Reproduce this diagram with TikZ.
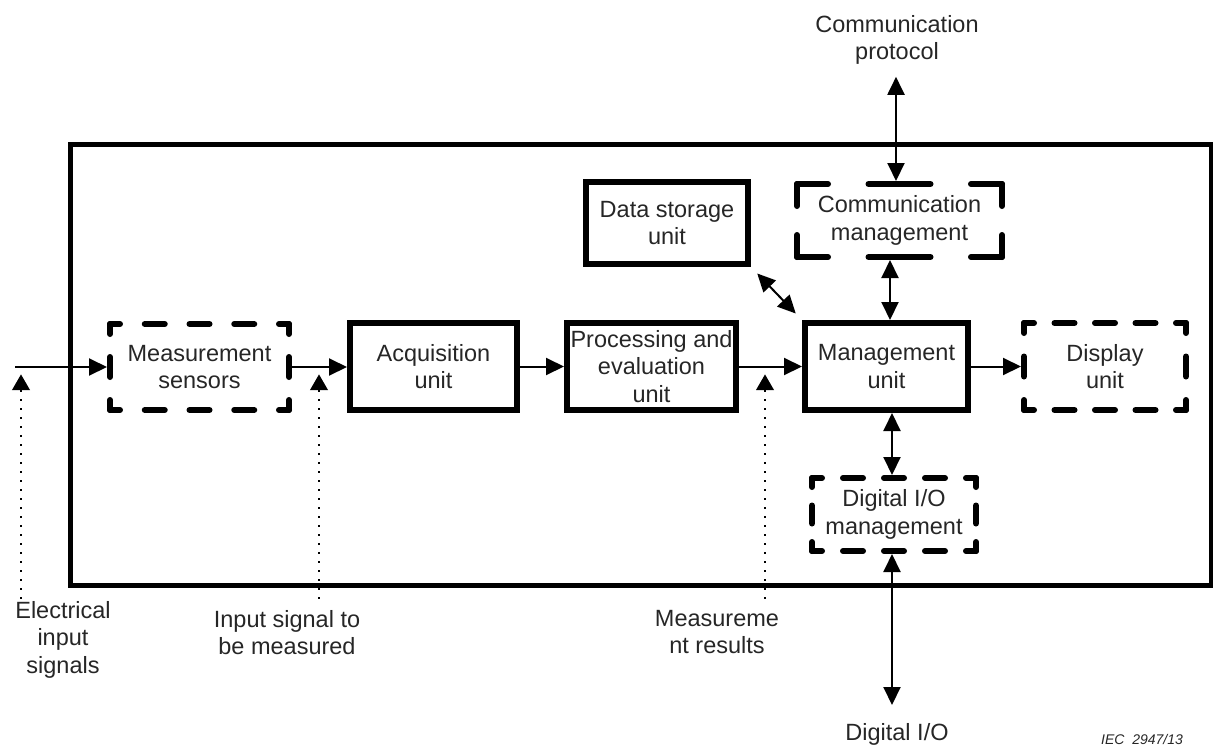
\documentclass[tikz,border=0pt]{standalone}
\usepackage{fontspec}
\setmainfont{Liberation Sans}
\usetikzlibrary{arrows.meta,calc,shapes.geometric}
\definecolor{txtgray}{HTML}{262626}
% draw the four sides of a node's border as dashes that meet in L shapes at the corners
% #1 node, #2/#3 on/off along horizontal sides, #4/#5 on/off along vertical sides
\newcommand{\dashedsides}[5]{%
  \pgfmathsetmacro\hphase{#2/2}%
  \pgfmathsetmacro\vphase{#4/2}%
  \coordinate (#1-nw) at ($(#1.north west)+(3,3)$);
  \coordinate (#1-ne) at ($(#1.north east)+(-3,3)$);
  \coordinate (#1-sw) at ($(#1.south west)+(3,-3)$);
  \coordinate (#1-se) at ($(#1.south east)+(-3,-3)$);
  \draw[dside,dash pattern=on #2pt off #3pt,dash phase=\hphase pt] (#1-nw) -- (#1-ne);
  \draw[dside,dash pattern=on #2pt off #3pt,dash phase=\hphase pt] (#1-sw) -- (#1-se);
  \draw[dside,dash pattern=on #4pt off #5pt,dash phase=\vphase pt] (#1-nw) -- (#1-sw);
  \draw[dside,dash pattern=on #4pt off #5pt,dash phase=\vphase pt] (#1-ne) -- (#1-se);
}
\begin{document}
\begin{tikzpicture}[x=1pt,y=-1pt,
  txt/.style={text=txtgray,font=\fontsize{23.5}{27.5}\selectfont,align=center},
  lab/.style={txt,inner sep=0pt,anchor=north},
  box/.style={txt,draw=black,line width=6pt,inner sep=1pt},
  dbox/.style={txt,draw=none,inner sep=1pt,outer sep=3pt},
  dside/.style={line width=6pt,line cap=round},
  frm/.style={draw=black,line width=5pt,inner sep=0pt},
  tip/.tip={Triangle[length=18pt,width=17pt]},
  arr/.style={line width=2pt,-tip},
  darr/.style={line width=2pt,tip-tip},
  sigmark/.style={regular polygon,regular polygon sides=3,fill=black,draw=none,
    minimum size=20.8pt,inner sep=0pt,outer sep=0pt},
  dots/.style={line width=1.5pt,dash pattern=on 1.5pt off 7.5pt}
]
\useasboundingbox (0,0) rectangle (1213,747);

% outer frame
\node[frm,minimum width=1141pt,minimum height=441pt] (frame) at (640.5,364.5) {};

% boxes
\node[dbox,minimum width=179pt,minimum height=86pt] (sens) at (199.5,367) {Measurement\\sensors};
\node[box,minimum width=167pt,minimum height=87pt] (acq) at (433.5,366.5) {Acquisition\\unit};
\node[box,minimum width=169pt,minimum height=87pt] (proc) at (651.5,366.5) {Processing and\\evaluation\\unit};
\node[box,minimum width=163pt,minimum height=87pt] (mgmt) at (886.5,366.5) {Management\\unit};
\node[dbox,minimum width=162pt,minimum height=87pt] (disp) at (1105,366.5) {Display\\unit};
\node[box,minimum width=162pt,minimum height=82pt] (store) at (667,223) {Data storage\\unit};
\node[dbox,minimum width=205pt,minimum height=73pt] (comm) at (899.5,220.5) {Communication\\management};
\node[dbox,minimum width=164pt,minimum height=73pt] (dio) at (894,514.5) {Digital I/O\\management};

\dashedsides{sens}{20}{24.75}{20}{23}
\dashedsides{disp}{20}{20.5}{20}{23.5}
\dashedsides{dio}{20}{21}{18}{18.5}
\dashedsides{comm}{62}{40.5}{44}{29}

% labels
\node[lab] (cplab) at (897,15) {Communication\\protocol};
\node[lab] (elab) at (63,601) {Electrical\\input\\signals};
\node[lab] (ilab) at (287,610) {Input signal to\\be measured};
\node[lab] (mlab) at (717,610) {Measureme\\nt results};
\node[lab] (dlab) at (897,723) {Digital I/O};
\node[text=txtgray,font=\fontsize{14}{17}\selectfont\itshape,inner sep=0pt,anchor=base west] (iec) at (1101,744) {IEC\ \ 2947/13};

% signal markers
\node[sigmark] (m1) at (21,384.8) {};
\node[sigmark] (m2) at (319,384.8) {};
\node[sigmark] (m3) at (765,384.8) {};
\draw[dots] (m1.south) -- (m1.south |- elab.north);
\draw[dots] (m2.south) -- ($(m2.south |- ilab.north)+(0,-5)$);
\draw[dots] (m3.south) -- ($(m3.south |- mlab.north)+(0,-5)$);

% connectors
\coordinate (in) at (15,367);
\coordinate (xp) at (896,0);
\coordinate (xc) at (890,0);
\coordinate (xd) at (892,0);
\draw[arr] (in) -- (sens.west);
\draw[arr] (sens.east) -- (sens.east -| acq.west);
\draw[arr] (acq.east) -- (acq.east -| proc.west);
\draw[arr] (proc.east) -- (proc.east -| mgmt.west);
\draw[arr] (mgmt.east) -- (mgmt.east -| disp.west);
\draw[darr,shorten <=9pt,shorten >=9pt] (store.south east) -- (mgmt.north west);
\draw[darr] ($(cplab.south -| xp)+(0,12)$) -- (comm.north -| xp);
\draw[darr] (comm.south -| xc) -- (mgmt.north -| xc);
\draw[darr] (mgmt.south -| xd) -- (dio.north -| xd);
\draw[darr] (dio.south -| xd) -- ($(dlab.north -| xd)+(0,-18)$);
\end{tikzpicture}
\end{document}
